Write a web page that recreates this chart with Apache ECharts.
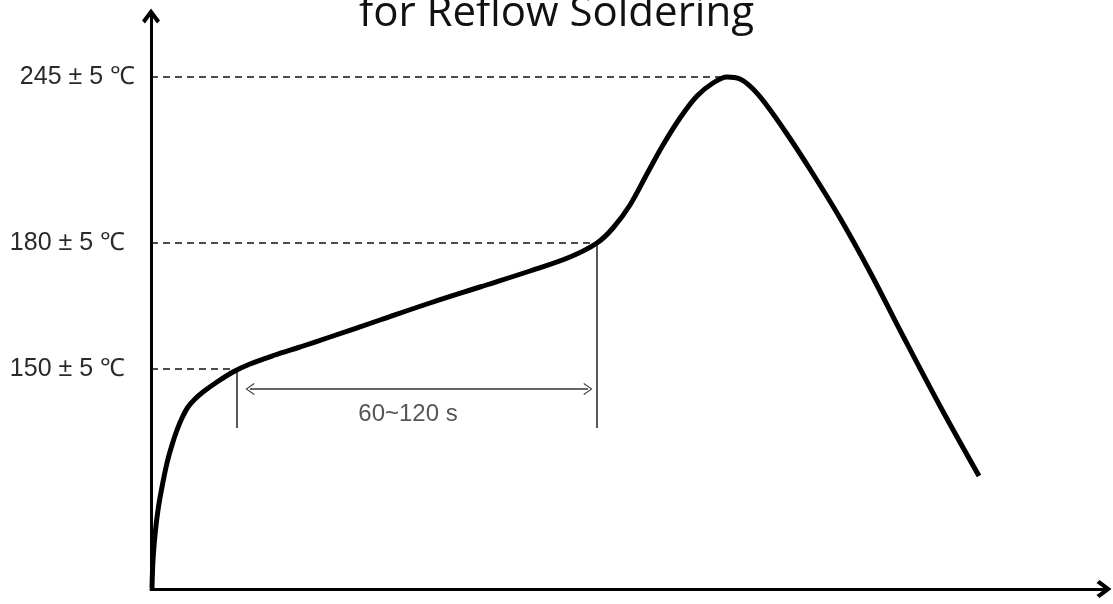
<!DOCTYPE html>
<html>
<head>
<meta charset="utf-8">
<script src="https://cdn.jsdelivr.net/npm/echarts@6/dist/echarts.min.js"></script>
<style>html,body{margin:0;padding:0;background:#fff;}#c{width:1113px;height:604px;}</style>
</head>
<body>
<div id="c"></div>
<script>
// Schematic reflow profile (units, origin at axes corner)
const curveX = [1, 2, 4, 7, 11, 16, 21, 26, 31, 37, 44, 52, 66, 82, 99, 124, 149, 179, 229, 279, 329, 379, 419, 446, 462, 479, 497, 512, 529, 546, 562, 576, 589, 601, 614, 636, 662, 689, 719, 752, 789, 828];
const curveY = [1, 29, 54, 79, 102, 126, 144, 159, 171, 182, 190, 197, 207, 217, 225, 234, 242, 252, 269, 286, 302, 318, 332, 346, 361, 384, 417, 444, 471, 493, 506, 512, 510, 501, 486, 455, 415, 371, 317, 253, 183, 113];

// Temperature guide levels
const levelLabels = ['245 ± 5 ℃', '180 ± 5 ℃', '150 ± 5 ℃'];
const levelY = [512, 346, 220];
const levelEndX = [576, 446, 86];

// Soak-time markers
const markerX = [86, 446];
const markerTopY = [220, 346];
const markerBottomY = 161;
const spanStartX = 99, spanEndX = 437, spanY = 200;
const spanLabel = '60~120 s';
const spanLabelPos = [257, 175];

const titleText = 'for Reflow Soldering';

const chevron = 'path://M0,8 L6,0 L12,8 L10,10 L6,4.5 L2,10 Z';
const thinChevron = 'path://M0,10 L6,0 L12,10 L11,10.6 L6,2 L1,10.6 Z';

const series = [];
series.push({
  type: 'line', data: curveX.map((x, i) => [x, curveY[i]]), smooth: 0.35,
  showSymbol: false, symbol: 'none', lineStyle: { color: '#000', width: 5 }, z: 5, silent: true
});
levelY.forEach((y, i) => {
  series.push({
    type: 'line', data: [[0, y], [levelEndX[i], y]], symbol: 'none', silent: true,
    lineStyle: { color: '#111', width: 1.5, type: [7, 5] }, z: 3
  });
});
markerX.forEach((x, i) => {
  series.push({
    type: 'line', data: [[x, markerTopY[i]], [x, markerBottomY]], symbol: 'none', silent: true,
    lineStyle: { color: '#222', width: 1.5 }, z: 3
  });
});
series.push({
  type: 'line', data: [], silent: true,
  markLine: {
    silent: true, symbol: [thinChevron, thinChevron], symbolSize: [12, 9],
    label: { show: false },
    lineStyle: { color: '#333', width: 1.5, type: 'solid' },
    data: [[{ coord: [spanStartX, spanY] }, { coord: [spanEndX, spanY] }]]
  }
});
series.push({
  type: 'scatter', data: [spanLabelPos], symbolSize: 0, silent: true,
  label: { show: true, position: 'inside', formatter: spanLabel, color: '#2a2a2a', fontSize: 24, fontFamily: 'Liberation Sans' }
});

const chart = echarts.init(document.getElementById('c'), null, { renderer: 'canvas' });
chart.setOption({
  backgroundColor: '#fff',
  animation: false,
  title: {
    text: titleText, left: 'center', top: -12,
    textStyle: { fontFamily: 'Open Sans', fontSize: 42, fontWeight: 'normal', color: '#111' }
  },
  grid: { left: 151, right: 9, top: 16, bottom: 15, containLabel: false },
  xAxis: {
    type: 'value', min: 0, max: 953,
    axisLine: { show: true, lineStyle: { color: '#000', width: 3 }, symbol: ['none', chevron], symbolSize: [18, 15] },
    axisTick: { show: false }, axisLabel: { show: false }, splitLine: { show: false }
  },
  yAxis: {
    type: 'value', min: 0, max: 573,
    axisLine: { show: true, lineStyle: { color: '#000', width: 3 }, symbol: ['none', chevron], symbolSize: [18, 15] },
    axisTick: { show: false }, splitLine: { show: false },
    axisLabel: {
      show: true, customValues: levelY, margin: 16,
      formatter: function (v) {
        const i = levelY.indexOf(v);
        if (i < 0) return '';
        return i === 0 ? '{t|' + levelLabels[i] + '}' : '{t|' + levelLabels[i] + '}{s|}';
      },
      rich: {
        t: { fontSize: 25, fontFamily: 'Liberation Sans', color: '#2a2a2a' },
        s: { width: 10 }
      }
    }
  },
  series: series
});
</script>
</body>
</html>
